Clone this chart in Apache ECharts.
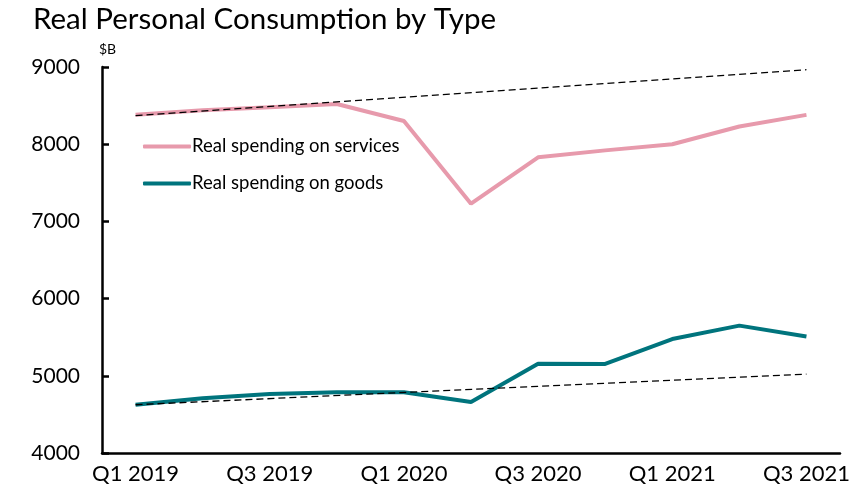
<!DOCTYPE html>
<html>
<head>
<meta charset="utf-8">
<script src="https://cdn.jsdelivr.net/npm/echarts@6/dist/echarts.min.js"></script>
<style>
  html, body { margin: 0; padding: 0; background: #fff; }
  #chart { width: 860px; height: 499px; }
</style>
</head>
<body>
<div id="chart"></div>
<script>
// Quarterly real personal consumption, billions of dollars
const quarters = ['Q1 2019', 'Q2 2019', 'Q3 2019', 'Q4 2019',
                  'Q1 2020', 'Q2 2020', 'Q3 2020', 'Q4 2020',
                  'Q1 2021', 'Q2 2021', 'Q3 2021'];
const services = [8380, 8440, 8480, 8520, 8300, 7230, 7830, 7920, 8000, 8230, 8380];
const goods    = [4625, 4710, 4765, 4788, 4788, 4660, 5156, 5154, 5476, 5650, 5510];
// Pre-pandemic trend lines: [category index, value] at both ends
const servicesTrend = [[0, 8370], [10, 8965]];
const goodsTrend    = [[0, 4625], [10, 5022]];
const yTicks = { min: 4000, max: 9000, step: 1000 };

const FONT = 'Lato, "Open Sans", sans-serif';
const chart = echarts.init(document.getElementById('chart'), null, { renderer: 'canvas' });

chart.setOption({
  animation: false,
  backgroundColor: '#ffffff',
  graphic: [
    {
      type: 'text', left: 33, top: 4,
      style: { text: 'Real Personal Consumption by Type', font: '29.5px ' + FONT, fill: '#000' }
    },
    {
      type: 'text', left: 99, top: 42,
      style: { text: '$B', font: '14px ' + FONT, fill: '#000' }
    }
  ],
  legend: {
    data: ['Real spending on services', 'Real spending on goods'],
    orient: 'vertical',
    left: 138, top: 132,
    itemWidth: 48, itemHeight: 4, itemGap: 18,
    icon: 'roundRect',
    textStyle: { fontFamily: FONT, fontSize: 18.5, color: '#000', padding: [0, 0, 0, -4] }
  },
  grid: { left: 102, right: 20, top: 67, bottom: 46, containLabel: false },
  xAxis: {
    type: 'category',
    data: quarters,
    boundaryGap: true,
    axisLine: { lineStyle: { color: '#000', width: 2.5 } },
    axisTick: { inside: true, length: 7, interval: 1, lineStyle: { color: '#000', width: 2.5 } },
    axisLabel: { interval: 1, margin: 10, fontFamily: FONT, fontSize: 22, color: '#000' },
    splitLine: { show: false }
  },
  yAxis: {
    type: 'value',
    min: yTicks.min, max: yTicks.max, interval: yTicks.step,
    axisLine: { show: true, lineStyle: { color: '#000', width: 2.5 } },
    axisTick: { show: true, inside: true, length: 7, lineStyle: { color: '#000', width: 2.5 } },
    axisLabel: { margin: 22, fontFamily: FONT, fontSize: 21, color: '#000',
                 formatter: v => String(v) },
    splitLine: { show: false }
  },
  series: [
    {
      name: 'Real spending on services', type: 'line', data: services,
      symbol: 'none', color: '#E79AAC',
      lineStyle: { width: 4, color: '#E79AAC' }, z: 3
    },
    {
      name: 'Real spending on goods', type: 'line', data: goods,
      symbol: 'none', color: '#00747D',
      lineStyle: { width: 4, color: '#00747D' }, z: 3
    },
    {
      name: 'services trend', type: 'line', data: servicesTrend,
      symbol: 'none', silent: true,
      lineStyle: { width: 1.3, color: '#000', type: [7, 4] }, z: 4
    },
    {
      name: 'goods trend', type: 'line', data: goodsTrend,
      symbol: 'none', silent: true,
      lineStyle: { width: 1.3, color: '#000', type: [7, 4] }, z: 4
    }
  ]
});
</script>
</body>
</html>
